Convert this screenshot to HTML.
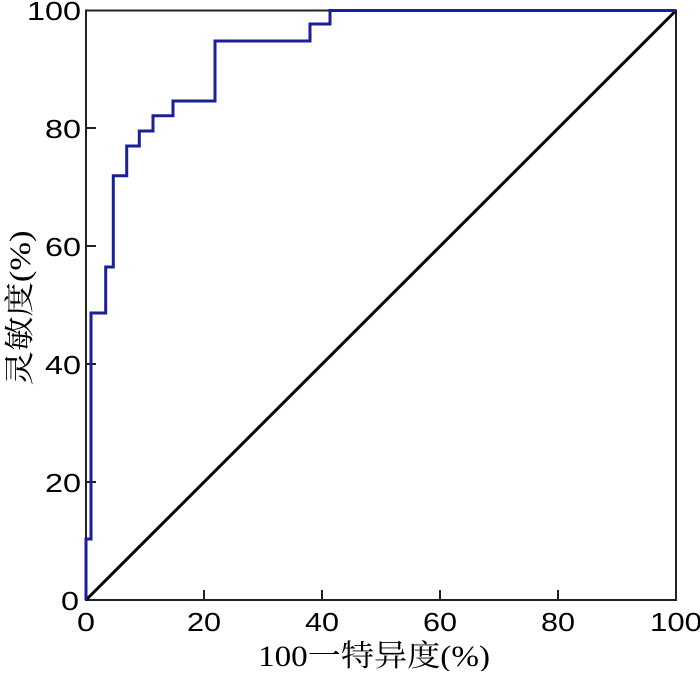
<!DOCTYPE html>
<html><head><meta charset="utf-8"><style>body{margin:0;background:#fff}</style></head><body>
<svg width="700" height="671" viewBox="0 0 700 671" xmlns="http://www.w3.org/2000/svg">
<rect x="86" y="10.5" width="590" height="589.5" fill="none" stroke="#222" stroke-width="2"/>
<g stroke="#222" stroke-width="2">
<line x1="86" y1="482" x2="96" y2="482"/><line x1="86" y1="364" x2="96" y2="364"/><line x1="86" y1="246" x2="96" y2="246"/><line x1="86" y1="128" x2="96" y2="128"/>
<line x1="204" y1="600" x2="204" y2="590"/><line x1="322" y1="600" x2="322" y2="590"/><line x1="440" y1="600" x2="440" y2="590"/><line x1="558" y1="600" x2="558" y2="590"/>
</g>
<line x1="86" y1="600" x2="676" y2="10.5" stroke="#000" stroke-width="3"/>
<polyline fill="none" stroke="#1a1f9a" stroke-width="3" points="86,600 86,539 91,539 91,313 105.7,313 105.7,267 113.3,267 113.3,175.7 126.7,175.7 126.7,146 139.3,146 139.3,131 153,131 153,115.7 173,115.7 173,101 215,101 215,41 310,41 310,24 330,24 330,10.5 676,10.5"/>
<g font-family="Liberation Sans, sans-serif" font-size="26" fill="#000" lengthAdjust="spacingAndGlyphs">
<g text-anchor="end"><text x="81" y="20" textLength="54" lengthAdjust="spacingAndGlyphs">100</text><text x="81" y="138" textLength="36" lengthAdjust="spacingAndGlyphs">80</text><text x="81" y="256" textLength="36" lengthAdjust="spacingAndGlyphs">60</text><text x="81" y="374" textLength="36" lengthAdjust="spacingAndGlyphs">40</text><text x="81" y="492" textLength="36" lengthAdjust="spacingAndGlyphs">20</text><text x="79" y="610" textLength="18" lengthAdjust="spacingAndGlyphs">0</text></g>
<g text-anchor="middle"><text x="86" y="631" textLength="18" lengthAdjust="spacingAndGlyphs">0</text><text x="204" y="631" textLength="34" lengthAdjust="spacingAndGlyphs">20</text><text x="322" y="631" textLength="34" lengthAdjust="spacingAndGlyphs">40</text><text x="440" y="631" textLength="34" lengthAdjust="spacingAndGlyphs">60</text><text x="558" y="631" textLength="34" lengthAdjust="spacingAndGlyphs">80</text><text x="676" y="631" textLength="52" lengthAdjust="spacingAndGlyphs">100</text></g>
</g>
<text x="374" y="666" text-anchor="middle" font-family="Liberation Serif, 'Noto Serif CJK SC', serif" font-size="30" textLength="232" lengthAdjust="spacingAndGlyphs">100一特异度(%)</text>
<text transform="translate(30,308) rotate(-90)" text-anchor="middle" font-family="Liberation Serif, 'Noto Serif CJK SC', serif" font-size="30" textLength="155" lengthAdjust="spacingAndGlyphs">灵敏度(%)</text>
</svg>
</body></html>
